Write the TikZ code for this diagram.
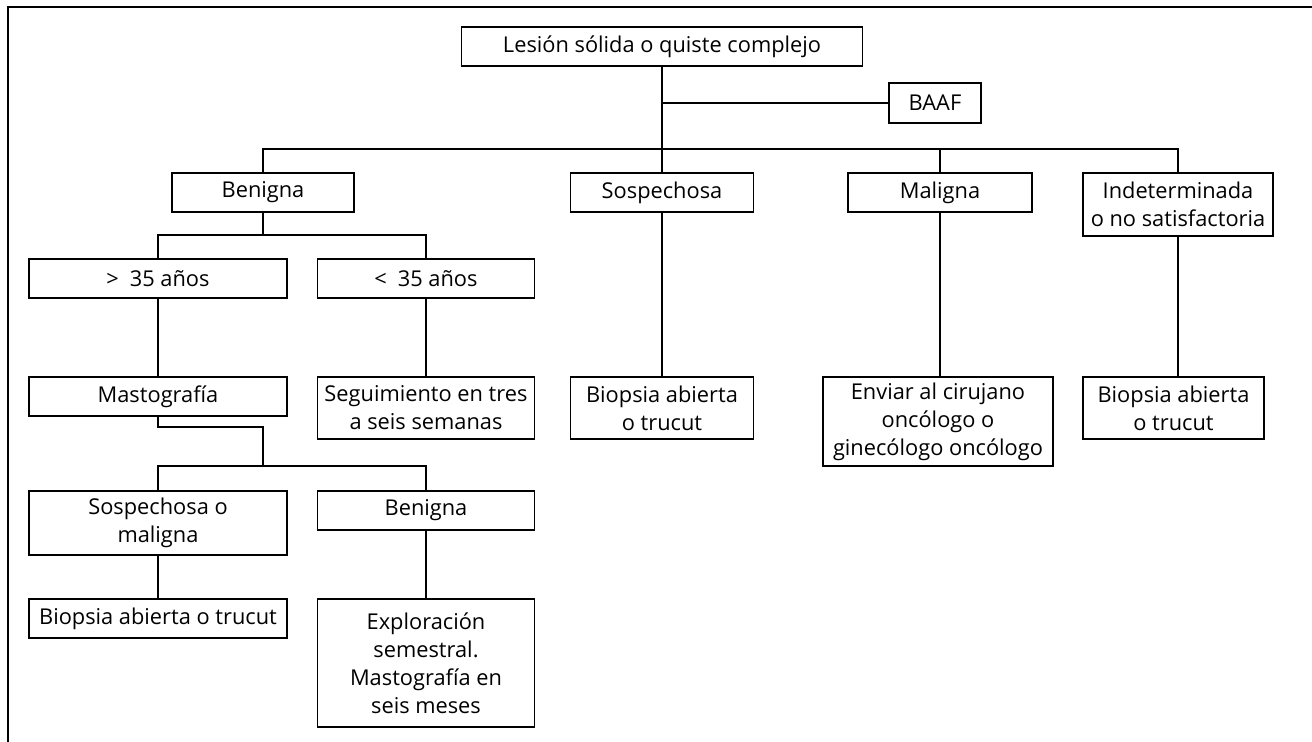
\documentclass[tikz,border=0pt]{standalone}
\usepackage{fontspec}
\setmainfont{Open Sans}

\begin{document}
\begin{tikzpicture}[x=0.5pt,y=-0.5pt]
   \tikzstyle{caja}=[draw, rectangle, align=center, inner sep=0pt, line width=0.6pt, font=\fontsize{10.9}{14}\selectfont]
   \tikzstyle{linea}=[line width=0.6pt]
   \useasboundingbox (0,0) rectangle (1312,742);
   \draw[linea] (8,742) -- (8,7) -- (1312,7);

% primer nivel
\node[caja, minimum width=200.5pt, minimum height=19.5pt] (lesion) at (662,46.5) {Lesión sólida o quiste complejo};
\node[caja, minimum width=46pt, minimum height=20pt] (baaf) at (935,103) {BAAF};

\node[caja, minimum width=91pt, minimum height=19.5pt] (benigna) at (263,192.5) {Benigna};
\node[caja, minimum width=91.5pt, minimum height=19.5pt] (sospechosa) at (662,192.5) {Sospechosa};
\node[caja, minimum width=92pt, minimum height=19.5pt] (maligna) at (940,192.5) {Maligna};
\node[caja, minimum width=95pt, minimum height=31.5pt] (indet) at (1178,204.5) {Indeterminada\\o no satisfactoria};

% rama benigna
\node[caja, minimum width=129pt, minimum height=19.5pt] (mayor) at (158,278.5) {>\enspace 35 años};
\node[caja, minimum width=108.5pt, minimum height=19.5pt] (menor) at (426,278.5) {<\enspace 35 años};
\node[caja, minimum width=129pt, minimum height=19.5pt] (masto) at (158,396.5) {Mastografía};
\node[caja, minimum width=108.5pt, minimum height=31pt] (seguim) at (426,408) {Seguimiento en tres\\a seis semanas};
\node[caja, minimum width=129pt, minimum height=32pt] (sosmal) at (158,523) {Sospechosa o\\maligna};
\node[caja, minimum width=108.5pt, minimum height=19.5pt] (benigna2) at (426,510.5) {Benigna};
\node[caja, minimum width=129pt, minimum height=19.5pt] (biopsiaL) at (158,618.5) {Biopsia abierta o trucut};
\node[caja, minimum width=108.5pt, minimum height=64pt] (explor) at (426,663) {Exploración\\semestral.\\Mastografía en\\seis meses};

% otras ramas
\node[caja, minimum width=91.5pt, minimum height=31pt] (biopsiaS) at (662,408) {Biopsia abierta\\o trucut};
\node[caja, minimum width=115pt, minimum height=44.5pt] (enviar) at (938,421.5) {Enviar al cirujano\\oncólogo o\\ginecólogo oncólogo};
\node[caja, minimum width=90.5pt, minimum height=31pt] (biopsiaI) at (1173.5,408) {Biopsia abierta\\o trucut};

\coordinate (bus1) at (0,149);
\coordinate (b2) at (263,235);
\coordinate (m1) at (263,427);
\coordinate (b3) at (263,466);

\draw[linea] (lesion.south) -- (sospechosa.north);
\draw[linea] (lesion.south |- baaf.west) -- (baaf.west);
\draw[linea] (benigna.north) -- (benigna.north |- bus1) -- (indet.north |- bus1) -- (indet.north);
\draw[linea] (maligna.north) -- (maligna.north |- bus1);

\draw[linea] (benigna.south) -- (b2);
\draw[linea] (mayor.north) |- (b2) -| (menor.north);
\draw[linea] (mayor.south) -- (masto.north);
\draw[linea] (menor.south) -- (seguim.north);
\draw[linea] (masto.south) |- (m1) -- (b3);
\draw[linea] (sosmal.north) |- (b3) -| (benigna2.north);
\draw[linea] (sosmal.south) -- (biopsiaL.north);
\draw[linea] (benigna2.south) -- (explor.north);

\draw[linea] (sospechosa.south) -- (biopsiaS.north);
\draw[linea] (maligna.south) -- (maligna.south |- enviar.north);
\draw[linea] (indet.south) -- (indet.south |- biopsiaI.north);

\end{tikzpicture}
\end{document}
